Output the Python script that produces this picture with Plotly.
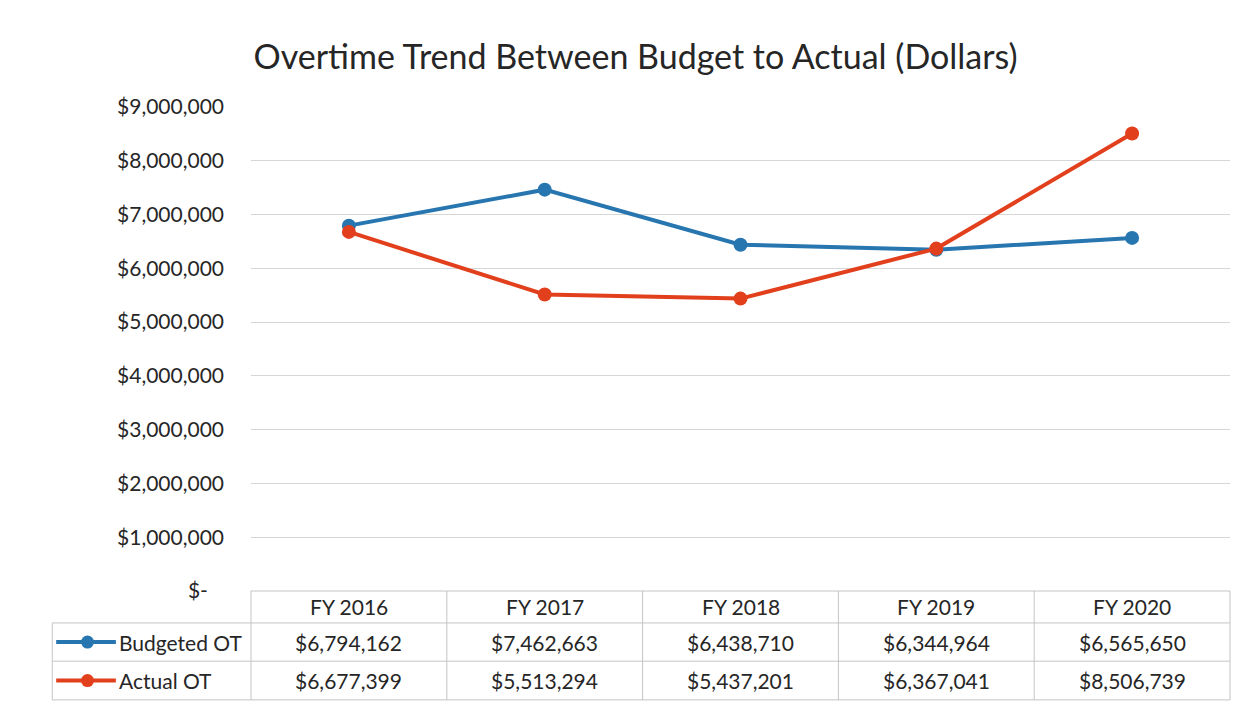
import plotly.graph_objects as go

years = ["FY 2016", "FY 2017", "FY 2018", "FY 2019", "FY 2020"]
budgeted_ot = [6794162, 7462663, 6438710, 6344964, 6565650]
actual_ot = [6677399, 5513294, 5437201, 6367041, 8506739]
tick_vals = [0, 1000000, 2000000, 3000000, 4000000, 5000000, 6000000, 7000000, 8000000, 9000000]
tick_text = ["$-\u00a0\u00a0\u00a0", "$1,000,000", "$2,000,000", "$3,000,000", "$4,000,000",
             "$5,000,000", "$6,000,000", "$7,000,000", "$8,000,000", "$9,000,000"]

BLUE = "#2776b0"
RED = "#e2401d"
GRID = "#d6d6d6"
TEXT = "#262626"
FONT = "Lato"
FS = 21

fig = go.Figure()
fig.add_trace(go.Scatter(x=years, y=budgeted_ot, name="Budgeted OT", mode="lines+markers",
                         line=dict(color=BLUE, width=4), marker=dict(color=BLUE, size=14)))
fig.add_trace(go.Scatter(x=years, y=actual_ot, name="Actual OT", mode="lines+markers",
                         line=dict(color=RED, width=4), marker=dict(color=RED, size=14)))

# data table under the plot (paper coords; x range [-0.5, 4.5] -> paper [0, 1])
n = len(years)
col_left = -0.203
rows_y = [0, -0.066, -0.145, -0.225]
shapes = []
line_style = dict(color="#c4c4c4", width=1)
shapes.append(dict(type="line", xref="paper", yref="paper", x0=0, x1=1, y0=rows_y[0], y1=rows_y[0], line=line_style))
for yy in rows_y[1:]:
    shapes.append(dict(type="line", xref="paper", yref="paper", x0=col_left, x1=1, y0=yy, y1=yy, line=line_style))
shapes.append(dict(type="line", xref="paper", yref="paper", x0=col_left, x1=col_left, y0=rows_y[1], y1=rows_y[3], line=line_style))
for i in range(n + 1):
    xx = i / n
    shapes.append(dict(type="line", xref="paper", yref="paper", x0=xx, x1=xx, y0=rows_y[0], y1=rows_y[3], line=line_style))

annotations = []
row_centers = [(rows_y[k] + rows_y[k + 1]) / 2 for k in range(3)]
cell_font = dict(size=FS, color=TEXT, family=FONT)
for i, yr in enumerate(years):
    for k, txt in enumerate([yr, f"${budgeted_ot[i]:,}", f"${actual_ot[i]:,}"]):
        annotations.append(dict(x=yr, xref="x", y=row_centers[k], yref="paper", text=txt, showarrow=False,
                                xanchor="center", yanchor="middle", font=cell_font))

# legend keys inside the table
for name, color, yc in [("Budgeted OT", BLUE, row_centers[1]), ("Actual OT", RED, row_centers[2])]:
    shapes.append(dict(type="line", xref="paper", yref="paper", x0=-0.199, x1=-0.138, y0=yc, y1=yc,
                       line=dict(color=color, width=4)))
    shapes.append(dict(type="circle", xref="paper", yref="paper", x0=-0.1736, x1=-0.1604,
                       y0=yc - 0.0134, y1=yc + 0.0134, fillcolor=color, line=dict(color=color, width=0)))
    annotations.append(dict(x=-0.137, xref="paper", y=yc, yref="paper", text=name, showarrow=False,
                            xanchor="left", yanchor="middle", font=cell_font))

fig.update_layout(
    width=1256, height=709,
    margin=dict(l=251, r=26, t=107, b=118),
    title=dict(text="Overtime Trend Between Budget to Actual (Dollars)", x=0.506, xanchor="center",
               y=0.92, yanchor="middle", font=dict(size=34, color=TEXT, family=FONT)),
    showlegend=False,
    plot_bgcolor="white",
    paper_bgcolor="white",
    xaxis=dict(range=[-0.5, 4.5], showticklabels=False, showgrid=False, zeroline=False, ticks=""),
    yaxis=dict(range=[0, 9000000], tickvals=tick_vals, ticktext=tick_text, showgrid=True,
               gridcolor=GRID, gridwidth=1, zeroline=False, ticks="", ticklabelstandoff=26,
               tickfont=dict(size=FS, color=TEXT, family=FONT)),
    shapes=shapes,
    annotations=annotations,
)

fig.write_html("out.html", config={"displayModeBar": False},
               post_script="document.body.style.margin='0';")
